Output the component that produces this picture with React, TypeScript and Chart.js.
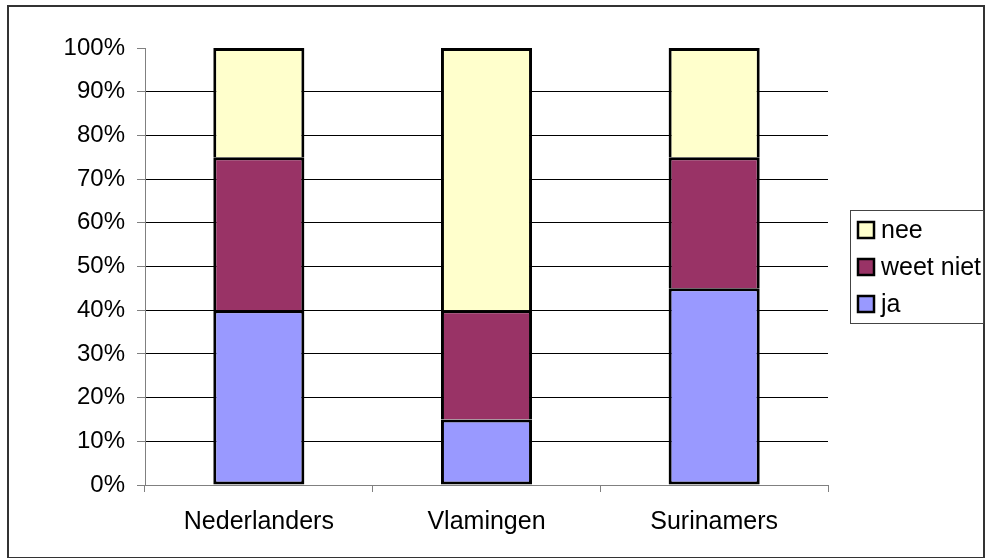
import React, { useEffect, useRef } from "react";
import { Chart, registerables } from "chart.js";

Chart.register(...registerables);

const categories = ["Nederlanders", "Vlamingen", "Surinamers"];
const jaValues = [40, 15, 45];
const weetNietValues = [35, 25, 30];
const neeValues = [25, 60, 25];
const seriesLabels = ["ja", "weet niet", "nee"];
const seriesColors = ["#9999FF", "#993366", "#FFFFCC"];
const yTickValues = [0, 10, 20, 30, 40, 50, 60, 70, 80, 90, 100];

const FONT = "'Liberation Sans', Arial, sans-serif";

const framePlugin = {
  id: "frameAndLegend",
  afterDraw(chart: any) {
    const ctx = chart.ctx;
    ctx.save();
    // outer chart border
    ctx.strokeStyle = "#333333";
    ctx.lineWidth = 2;
    ctx.strokeRect(8, 6, 976, 552);

    // legend box
    ctx.lineWidth = 1;
    ctx.strokeStyle = "#444444";
    ctx.fillStyle = "#ffffff";
    ctx.fillRect(850.5, 210.5, 133, 113);
    ctx.strokeRect(850.5, 210.5, 133, 113);

    const ds = chart.data.datasets;
    const rowsY = [230, 267, 304];
    ctx.font = `25px ${FONT}`;
    ctx.textBaseline = "middle";
    ctx.textAlign = "left";
    for (let i = 0; i < ds.length; i++) {
      const d = ds[ds.length - 1 - i];
      const y = rowsY[i];
      ctx.fillStyle = d.backgroundColor;
      ctx.fillRect(858, y - 8, 16, 16);
      ctx.strokeStyle = "#000000";
      ctx.lineWidth = 2.5;
      ctx.strokeRect(858, y - 8, 16, 16);
      ctx.fillStyle = "#000000";
      ctx.fillText(d.label, 881, y + 1);
    }
    ctx.restore();
  },
};

export default function App() {
  const canvasRef = useRef<HTMLCanvasElement | null>(null);

  useEffect(() => {
    const canvas = canvasRef.current;
    if (!canvas) return;
    const values = [jaValues, weetNietValues, neeValues];
    const chart = new Chart(canvas, {
      type: "bar",
      data: {
        labels: categories,
        datasets: values.map((v, i) => ({
          label: seriesLabels[i],
          data: v,
          backgroundColor: seriesColors[i],
          borderColor: "#000000",
          borderWidth: i === 0 ? 3 : { top: 3, left: 3, right: 3, bottom: 0 },
          borderSkipped: false,
          inflateAmount: 0,
          barPercentage: 0.4,
          categoryPercentage: 1,
        })),
      },
      options: {
        responsive: false,
        animation: false,
        devicePixelRatio: 1,
        layout: { padding: { left: 0, right: 157, top: 48, bottom: 0 } },
        plugins: {
          legend: { display: false },
          tooltip: { enabled: false },
        },
        scales: {
          x: {
            stacked: true,
            offset: true,
            grid: {
              offset: true,
              drawOnChartArea: false,
              drawTicks: true,
              tickLength: 7,
              tickColor: "#808080",
              color: "#808080",
            },
            border: { color: "#808080", width: 1 },
            ticks: {
              color: "#000000",
              font: { family: FONT, size: 25 },
              padding: 15,
              maxRotation: 0,
            },
            afterFit(scale: any) {
              scale.height = 73;
            },
          },
          y: {
            stacked: true,
            min: 0,
            max: 100,
            afterBuildTicks(scale: any) {
              scale.ticks = yTickValues.map((v) => ({ value: v }));
            },
            grid: {
              color: (c: any) =>
                c.tick && c.tick.value === 100
                  ? "rgba(0,0,0,0)"
                  : c.tick && c.tick.value === 0
                  ? "#808080"
                  : "#000000",
              tickColor: "#808080",
              tickLength: 8,
              lineWidth: 1,
            },
            border: { color: "#808080", width: 1 },
            ticks: {
              color: "#000000",
              font: { family: FONT, size: 24 },
              padding: 12,
              callback: (v: any) => `${v}%`,
            },
            afterFit(scale: any) {
              scale.width = 145;
            },
          },
        },
      },
      plugins: [framePlugin],
    });
    return () => chart.destroy();
  }, []);

  return (
    <div style={{ position: "fixed", left: 0, top: 0, width: 985, height: 558, background: "#fff" }}>
      <canvas ref={canvasRef} width={985} height={558} style={{ display: "block" }} />
    </div>
  );
}
